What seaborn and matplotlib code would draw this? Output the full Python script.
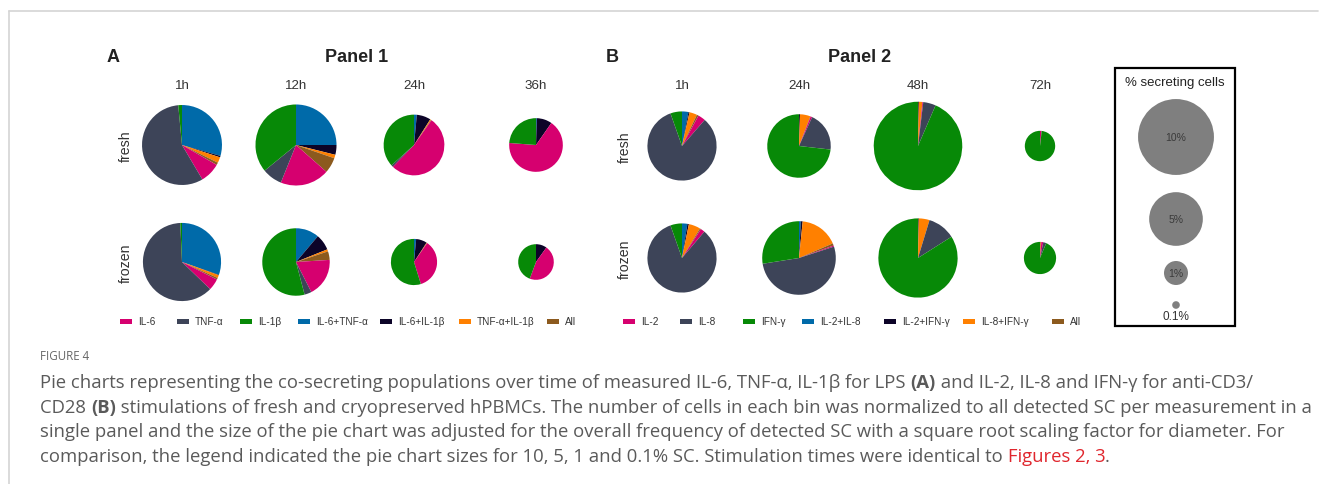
import matplotlib
matplotlib.use("Agg")
import matplotlib.pyplot as plt
from matplotlib.patches import Rectangle
import seaborn as sns
import numpy as np

# ---- data -----------------------------------------------------------------
pan1_cats = ["IL-6", "TNF-α", "IL-1β", "IL-6+TNF-α", "IL-6+IL-1β", "TNF-α+IL-1β", "All"]
pan2_cats = ["IL-2", "IL-8", "IFN-γ", "IL-2+IL-8", "IL-2+IFN-γ", "IL-8+IFN-γ", "All"]
pan1_times = ["1h", "12h", "24h", "36h"]
pan2_times = ["1h", "24h", "48h", "72h"]
conditions = ["fresh", "frozen"]

# % secreting cells per measurement (sets the pie size)
pan1_fresh_pct = [11.1, 11.4, 6.4, 5.0]
pan1_frozen_pct = [10.6, 7.9, 3.7, 2.2]
pan2_fresh_pct = [8.3, 7.0, 13.6, 1.6]
pan2_frozen_pct = [8.3, 9.4, 10.9, 1.8]

# share of each population (legend order), one row per time point
pan1_fresh = [
    [8.2, 57.0, 1.5, 29.4, 0.6, 2.3, 1.0],
    [19.6, 8.0, 35.9, 25.0, 3.9, 1.4, 6.2],
    [52.5, 1.0, 36.7, 1.5, 7.5, 0.5, 0.3],
    [66.5, 0.0, 23.8, 0.5, 9.2, 0.0, 0.0],
]
pan1_frozen = [
    [4.8, 62.1, 0.7, 30.3, 0.2, 1.2, 0.7],
    [18.5, 3.4, 54.1, 11.2, 7.7, 1.0, 4.1],
    [35.5, 0.0, 54.8, 1.5, 7.7, 0.3, 0.2],
    [45.8, 0.0, 44.3, 0.0, 9.9, 0.0, 0.0],
]
pan2_fresh = [
    [3.5, 83.2, 5.4, 3.0, 0.5, 3.6, 0.8],
    [0.8, 20.0, 73.2, 0.0, 0.5, 5.3, 0.2],
    [0.3, 4.6, 93.5, 0.0, 0.3, 1.3, 0.0],
    [1.5, 0.3, 98.2, 0.0, 0.0, 0.0, 0.0],
]
pan2_frozen = [
    [2.0, 83.4, 5.4, 2.5, 0.7, 5.5, 0.5],
    [0.5, 52.5, 27.5, 0.8, 0.8, 16.9, 1.0],
    [0.0, 11.3, 84.0, 0.0, 0.3, 4.4, 0.0],
    [2.0, 3.0, 93.7, 0.0, 0.5, 0.8, 0.0],
]

size_legend = [10, 5, 1, 0.1]
size_labels = ["10%", "5%", "1%", "0.1%"]

# ---- style ----------------------------------------------------------------
sns.set_theme(style="white")
plt.rcParams["font.family"] = ["Liberation Sans", "DejaVu Sans"]
colors = sns.color_palette(["#d6006f", "#3d4458", "#078907", "#006aa9",
                            "#0c0428", "#ff8000", "#8c5a1e"])
draw_order = [3, 4, 5, 6, 0, 1, 2]   # combos first, clockwise from 12 o'clock
r_scale = 12.0                      # px radius per sqrt(%)

W, H = 1320, 485
fig = plt.figure(figsize=(W / 100, H / 100), dpi=100)
ax = fig.add_axes([0, 0, 1, 1])


def T(x, y, s, **kw):
    return ax.text(x, H - y, s, **kw)


def pie(cx, cy, shares, pct):
    vals = [shares[i] for i in draw_order]
    cols = [colors[i] for i in draw_order]
    ax.pie(vals, colors=cols, radius=r_scale * np.sqrt(pct), center=(cx, H - cy),
           startangle=90, counterclock=False, wedgeprops=dict(linewidth=0))


panels = [
    ("A", "Panel 1", 113, 357, [182, 296, 414, 536], [146, 263], 126,
     pan1_times, pan1_cats, [pan1_fresh, pan1_frozen], [pan1_fresh_pct, pan1_frozen_pct],
     [120, 177, 240, 298, 380, 459, 547]),
    ("B", "Panel 2", 612, 860, [682, 799, 918, 1040], [147, 259], 625,
     pan2_times, pan2_cats, [pan2_fresh, pan2_frozen], [pan2_fresh_pct, pan2_frozen_pct],
     [623, 680, 743, 802, 884, 963, 1052]),
]

for (lab, title, lx, tx, xs, ys, rx, times, cats, comps, pcts, legx) in panels:
    T(lx, 57, lab, fontsize=13, weight="bold", ha="center", va="center", color="#222222")
    T(tx, 57, title, fontsize=13, weight="bold", ha="center", va="center", color="#222222")
    for j, t in enumerate(times):
        T(xs[j], 86, t, fontsize=9.6, ha="center", va="center", color="#333333")
    for i, cond in enumerate(conditions):
        T(rx, ys[i], cond, fontsize=10.2, rotation=90, ha="center", va="center", color="#333333")
        for j in range(len(times)):
            pie(xs[j], ys[i], comps[i][j], pcts[i][j])
    for k, c in enumerate(cats):
        ax.add_patch(Rectangle((legx[k], H - 324.5), 12, 5, color=colors[k], lw=0))
        T(legx[k] + 18, 322, c, fontsize=7.2, ha="left", va="center", color="#333333")

# size legend
ax.add_patch(Rectangle((1115, H - 327), 120, 258, fill=False, ec="black", lw=1.6))
T(1175, 83, "% secreting cells", fontsize=9.5, ha="center", va="center", color="#222222")
leg_y = [138, 220, 274, 306]
for p, s, y in zip(size_legend, size_labels, leg_y):
    ax.pie([1], colors=["#7f7f7f"], radius=r_scale * np.sqrt(p), center=(1176, H - y),
           wedgeprops=dict(linewidth=0))
    if p >= 1:
        T(1176, y, s, fontsize=7.5, ha="center", va="center", color="#3a3a3a")
    else:
        T(1176, y + 11, s, fontsize=8.5, ha="center", va="center", color="#333333")

# frame lines
ax.plot([9, 1318], [H - 11.5, H - 11.5], color="#d4d4d4", lw=1.2)
ax.plot([9, 9], [H - 11.5, 0], color="#d4d4d4", lw=1.2)

# caption
cap_font = ["Open Sans", "DejaVu Sans"]
T(40, 357, "FIGURE 4", fontsize=8.3, ha="left", va="center", color="#666666", family=cap_font)
gray = "#5a5a5a"
red = "#e0262d"
cap_lines = [
    [("Pie charts representing the co-secreting populations over time of measured IL-6, TNF-α, IL-1β for LPS ", "normal", gray),
     ("(A)", "bold", gray),
     (" and IL-2, IL-8 and IFN-γ for anti-CD3/", "normal", gray)],
    [("CD28 ", "normal", gray), ("(B)", "bold", gray),
     (" stimulations of fresh and cryopreserved hPBMCs. The number of cells in each bin was normalized to all detected SC per measurement in a", "normal", gray)],
    [("single panel and the size of the pie chart was adjusted for the overall frequency of detected SC with a square root scaling factor for diameter. For", "normal", gray)],
    [("comparison, the legend indicated the pie chart sizes for 10, 5, 1 and 0.1% SC. Stimulation times were identical to ", "normal", gray),
     ("Figures 2, 3", "normal", red), (".", "normal", gray)],
]
cap_y = [383, 408, 432, 457]
rend = fig.canvas.get_renderer()
for y, parts in zip(cap_y, cap_lines):
    x = 40
    for s, w, c in parts:
        t = T(x, y + 5, s, fontsize=13.3, weight=w, color=c, ha="left", va="baseline", family=cap_font)
        x += t.get_window_extent(renderer=rend).width

ax.set_xlim(0, W)
ax.set_ylim(0, H)
ax.set_aspect("equal")
ax.axis("off")
fig.savefig("out.png", dpi=100)
